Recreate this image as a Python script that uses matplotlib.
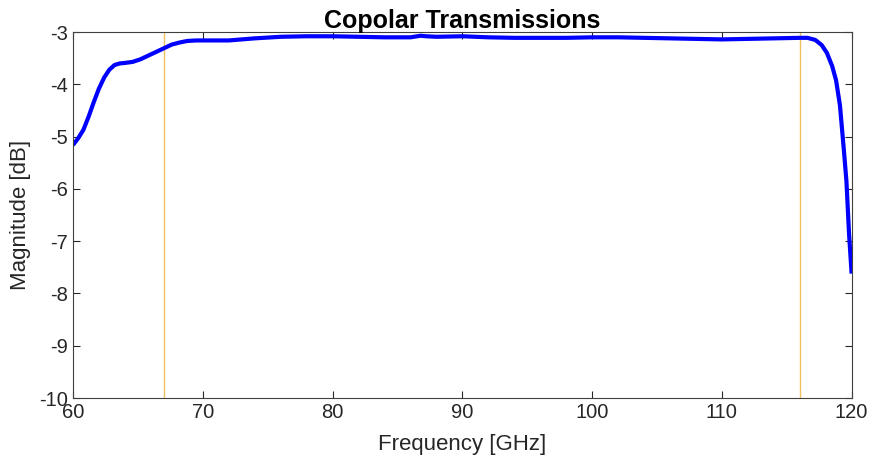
import matplotlib
matplotlib.use("Agg")
import matplotlib.pyplot as plt
import numpy as np

# Copolar transmission
freq = [60, 60.4, 60.8, 61.2, 61.6, 62.0, 62.4, 62.8, 63.2, 63.6, 64.0, 64.6, 65.2,
        65.8, 66.4, 67.0, 67.6, 68.2, 68.8, 69.5, 70.5, 72, 74, 76, 78, 80, 82, 84,
        85, 86, 86.8, 87.2, 88, 90, 92, 94, 96, 98, 100, 102, 104, 106, 108, 110,
        112, 114, 116, 116.6, 117.2, 117.7, 118.1, 118.5, 118.8, 119.1, 119.4,
        119.6, 119.8, 120]
mag = [-5.16, -5.03, -4.87, -4.62, -4.34, -4.08, -3.87, -3.72, -3.63, -3.60, -3.59,
       -3.57, -3.52, -3.45, -3.38, -3.31, -3.24, -3.20, -3.17, -3.16, -3.16, -3.16,
       -3.12, -3.09, -3.08, -3.08, -3.09, -3.10, -3.10, -3.10, -3.07, -3.08, -3.09,
       -3.08, -3.10, -3.11, -3.11, -3.11, -3.10, -3.10, -3.11, -3.12, -3.13, -3.14,
       -3.13, -3.12, -3.11, -3.11, -3.15, -3.25, -3.40, -3.65, -3.92, -4.40, -5.25,
       -5.85, -6.85, -7.62]
band_edges = [67, 116]

plt.rcParams['font.family'] = ['Liberation Sans', 'DejaVu Sans']
plt.rcParams['axes.unicode_minus'] = False

fig = plt.figure(figsize=(8.69, 4.65), dpi=100)
ax = fig.add_axes([0.084, 0.144, 0.896, 0.787])

for f in band_edges:
    ax.axvline(f, color='#F0C060', lw=1.0)
ax.plot(freq, mag, color='#0000FF', lw=3, solid_capstyle='butt')

ax.set_xlim(60, 120)
ax.set_ylim(-10, -3)
ax.set_xticks(np.arange(60, 121, 10))
ax.set_yticks(np.arange(-10, -2, 1))
ax.tick_params(direction='in', top=True, right=True, length=5, width=0.8,
               labelsize=14.5, colors='#262626')
for s in ax.spines.values():
    s.set_color('#404040')
    s.set_linewidth(0.8)

ax.set_xlabel('Frequency [GHz]', fontsize=16, color='#262626', labelpad=9)
ax.set_ylabel('Magnitude [dB]', fontsize=16, color='#262626', labelpad=6)
ax.set_title('Copolar Transmissions', fontsize=18, fontweight='bold', pad=3)

fig.savefig('out.png', dpi=100)
